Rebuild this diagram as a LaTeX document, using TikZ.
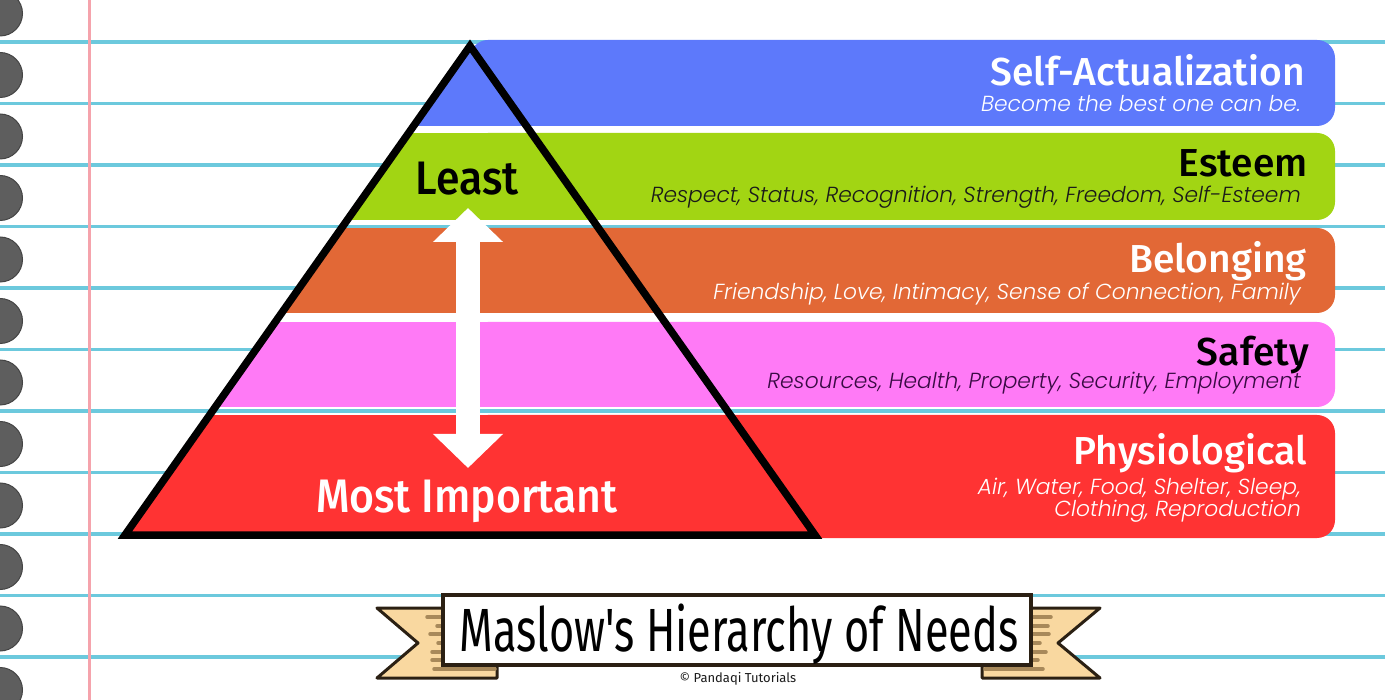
\documentclass[tikz,border=0pt]{standalone}
\usepackage{fontspec}
\setmainfont{Fira Sans}
\IfFontExistsTF{Fira Sans Medium}
  {\newfontfamily\headbase{Fira Sans Medium}\newcommand\headfont{\headbase}
   \newfontfamily\pyrbase[FakeStretch=0.91]{Fira Sans Medium}\newcommand\pyrfont{\pyrbase}}
  {\newfontfamily\headbase{Fira Sans}\newcommand\headfont{\headbase\bfseries}
   \newfontfamily\pyrbase[FakeStretch=0.9]{Fira Sans}\newcommand\pyrfont{\pyrbase\bfseries}}
\IfFontExistsTF{Poppins Light Italic}
  {\newfontfamily\subbase{Poppins Light Italic}\newcommand\subfont{\subbase}}
  {\newfontfamily\subbase{Poppins}\newcommand\subfont{\subbase\itshape}}
\newfontfamily\bannerfont[FakeStretch=0.71]{Fira Sans}
\usetikzlibrary{arrows.meta}
\definecolor{ruleblue}{HTML}{6CC9DD}
\definecolor{marginpink}{HTML}{F5A3AC}
\definecolor{holegray}{HTML}{5E5E5E}
\definecolor{holedark}{HTML}{444444}
\definecolor{bandblue}{HTML}{5D79FB}
\definecolor{bandgreen}{HTML}{A2D513}
\definecolor{bandorange}{HTML}{E26836}
\definecolor{bandpink}{HTML}{FF7AF6}
\definecolor{bandred}{HTML}{FF3333}
\definecolor{ribbontan}{HTML}{F9D8A0}
\definecolor{stripebrown}{HTML}{A8895A}
\definecolor{ribbonline}{HTML}{2B2013}
\definecolor{subpurple}{HTML}{3A0B44}
\definecolor{subdark}{HTML}{1A1A1A}
\tikzset{
  rule/.style={line width=3.5pt,ruleblue},
  hole/.style={fill=holegray,draw=holedark,line width=1pt},
  bandbox/.style={rounded corners=18pt},
  title/.style={anchor=base east,inner sep=0pt,font=\headfont\fontsize{39}{39}\selectfont},
  sub/.style={anchor=base east,inner sep=0pt,font=\subfont\fontsize{21.8}{23}\selectfont},
  pyr/.style={anchor=base,inner sep=0pt,font=\pyrfont\fontsize{47}{47}\selectfont},
  ribbon/.style={fill=ribbontan,draw=ribbonline,line width=3pt,line join=round},
  stripe/.style={line width=3.5pt,stripebrown,line cap=round},
  bigarrow/.style={white,line width=24pt,{Triangle[width=68pt,length=34pt]}-{Triangle[width=68pt,length=34pt]}}
}
\begin{document}
\begin{tikzpicture}
[x=1pt,y=-1pt]
\useasboundingbox (0,0) rectangle (1385,700);
\fill[white] (0,0) rectangle (1385,700);

\foreach \k in {0,...,10}
  \draw[rule] (0,42+61.5*\k) -- (1385,42+61.5*\k);
\draw[line width=3pt,marginpink] (89,0) -- (89,700);
\foreach \k in {0,...,11}
  \path[hole] (0,13.5+61.5*\k) circle (22.5);

\foreach \c/\ya/\yb in {bandblue/40/126,bandgreen/133/220,bandorange/228/313,bandpink/322/407,bandred/415/538}{
  \fill[\c,bandbox] (470,\ya) rectangle (1335,\yb);
  \begin{scope}
    \clip (470,46) -- (125,535) -- (815,535) -- cycle;
    \fill[\c] (100,\ya) rectangle (900,\yb);
  \end{scope}
}
\draw[line width=7.5pt] (470,46) -- (125,535) -- (815,535) -- cycle;

\node[title,white] (selfact) at (1305,86) {Self-Actualization};
\node[sub,white] (selfactsub) at (1301,112) {Become the best one can be.};
\node[title,black] (esteem) at (1308,177) {Esteem};
\node[sub,subdark] (esteemsub) at (1301,203) {Respect, Status, Recognition, Strength, Freedom, Self-Esteem};
\node[title,white] (belonging) at (1307,273) {Belonging};
\node[sub,white] (belongingsub) at (1301,300) {Friendship, Love, Intimacy, Sense of Connection, Family};
\node[title,black] (safety) at (1309,366) {Safety};
\node[sub,subpurple] (safetysub) at (1301,389) {Resources, Health, Property, Security, Employment};
\node[title,white] (physio) at (1307,465) {Physiological};
\node[sub,white] (physiosubA) at (1301,495) {Air, Water, Food, Shelter, Sleep,};
\node[sub,white] (physiosubB) at (1301,517) {Clothing, Reproduction};

\node[pyr,black] (least) at (467,195) {Least};
\node[pyr,white] (most) at (467,513) {Most Important};
\coordinate (up) at (468,208);
\coordinate (down) at (468,468);
\draw[bigarrow] (up) -- (down);

\path[ribbon] (377,608) -- (497,608) -- (497,678) -- (377,678) -- (418,643) -- cycle;
\path[ribbon] (1100,608) -- (982,608) -- (982,678) -- (1100,678) -- (1058,643) -- cycle;
\foreach \ya/\xa/\xb in {617/427/1051,626/437/1048,634/430/1049,643/438/1040,652/432/1046,660/432/1038,669/434/1043}{
  \draw[stripe] (\xa,\ya) -- (495,\ya);
  \draw[stripe] (985,\ya) -- (\xb,\ya);
}
\node[draw=ribbonline,line width=4pt,fill=white,minimum width=588pt,minimum height=70pt,inner sep=0pt] (banner) at (737,630) {};
\node[anchor=base,inner sep=0pt,font=\bannerfont\fontsize{61}{61}\selectfont] (maslow) at (739,651) {Maslow's Hierarchy of Needs};
\node[anchor=base,inner sep=0pt,font=\fontsize{13}{13}\selectfont,subdark] (credit) at (738,682) {© Pandaqi Tutorials};

\end{tikzpicture}
\end{document}
